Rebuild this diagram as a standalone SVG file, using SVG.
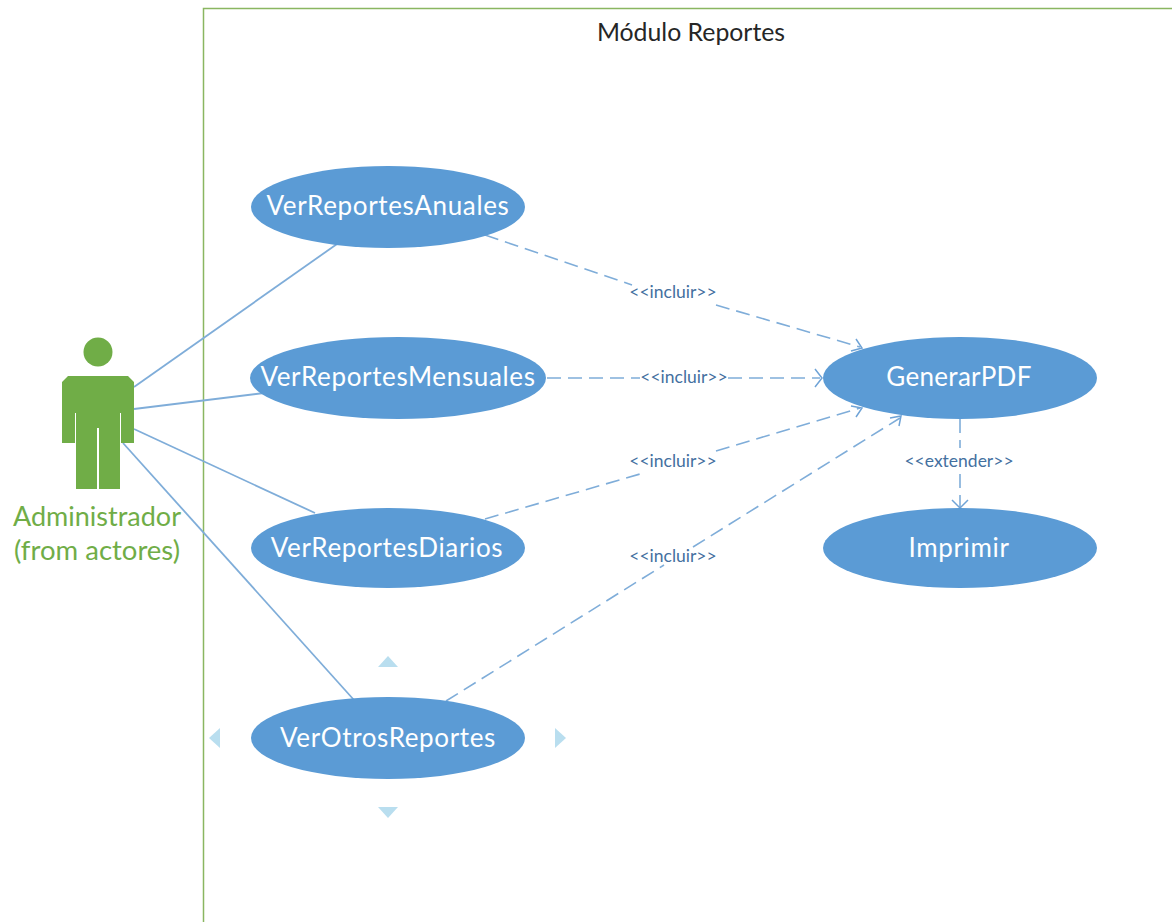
<svg xmlns="http://www.w3.org/2000/svg" width="1172" height="922" viewBox="0 0 1172 922">
<style>
text{font-family:Lato,"Open Sans","Liberation Sans",sans-serif}
.uc{fill:#5b9bd5}
.ut{fill:#fff;font-size:26px;text-anchor:middle;letter-spacing:.65px}
.a{stroke:#7fadd9;stroke-width:1.800;fill:none}
.d{stroke:#7fadd9;stroke-width:1.600;fill:none;stroke-dasharray:14 7}
.h{stroke:#6fa3d6;stroke-width:1.500;fill:none}
.l{fill:#44709f;font-size:17.500px;text-anchor:middle}
.m{fill:#b9deef}
.g{fill:#70ad47}
</style>
<rect width="1172" height="922" fill="#fff"/>
<g id="boundary">
<path d="M203.500 922V8.500H1172" fill="none" stroke="#8ab661" stroke-width="1.500"/>
<text x="691" y="41" font-size="24.800" text-anchor="middle" fill="#262626">Módulo Reportes</text>
</g>
<g id="connectors">
<path class="a" d="M134 387L337 244"/>
<path class="a" d="M134 409L264 393"/>
<path class="a" d="M134 429L315 513"/>
<path class="a" d="M123 443L354 700"/>
<path class="d" d="M485 235L632 285M716 305L860 347"/>
<path class="h" d="M856 339L862 348L851 351"/>
<path class="d" d="M547 378L640 378M728 378L820 378"/>
<path class="h" d="M815 369L822 378L815 387"/>
<path class="d" d="M485 519L640 474M716 451L860 408"/>
<path class="h" d="M851 406L862 408L856 417"/>
<path class="d" d="M446 701L664 565M693 547L900 418"/>
<path class="h" d="M890 418L901 416L899 426"/>
<path class="d" d="M960 419L960 448M960 474L960 507"/>
<path class="h" d="M952 500L960 508L968 500"/>
<text class="l" x="673" y="298">&lt;&lt;incluir&gt;&gt;</text>
<text class="l" x="684" y="383">&lt;&lt;incluir&gt;&gt;</text>
<text class="l" x="673" y="467">&lt;&lt;incluir&gt;&gt;</text>
<text class="l" x="673" y="562">&lt;&lt;incluir&gt;&gt;</text>
<text class="l" x="959" y="467">&lt;&lt;extender&gt;&gt;</text>
</g>
<g id="actor">
<circle class="g" cx="98" cy="352" r="14.500"/>
<path class="g" d="M68 376H128L134 382V443H121V413H120V489H99V428H97V489H76V413H75V443H62V382Z"/>
<text x="97" y="526" font-size="27" text-anchor="middle" fill="#70ad47">Administrador</text>
<text x="97" y="560" font-size="27.500" text-anchor="middle" fill="#70ad47">(from actores)</text>
</g>
<g id="uc-anuales"><ellipse class="uc" cx="388" cy="207" rx="137" ry="41"/><text class="ut" x="388" y="215">VerReportesAnuales</text></g>
<g id="uc-mensuales"><ellipse class="uc" cx="398" cy="378" rx="148" ry="41"/><text class="ut" x="398" y="386">VerReportesMensuales</text></g>
<g id="uc-diarios"><ellipse class="uc" cx="388" cy="548" rx="137" ry="40"/><text class="ut" x="387" y="557">VerReportesDiarios</text></g>
<g id="uc-otros"><ellipse class="uc" cx="388" cy="738" rx="137" ry="41"/><text class="ut" x="388" y="747">VerOtrosReportes</text></g>
<g id="uc-pdf"><ellipse class="uc" cx="960" cy="378" rx="137" ry="41"/><text class="ut" x="959" y="386" style="letter-spacing:.3px">GenerarPDF</text></g>
<g id="uc-imprimir"><ellipse class="uc" cx="960" cy="548" rx="137" ry="40"/><text class="ut" x="959" y="557">Imprimir</text></g>
<g id="handles">
<path class="m" d="M388 656L398 667H378Z"/>
<path class="m" d="M388 818L398 807H378Z"/>
<path class="m" d="M209 738L220 728V748Z"/>
<path class="m" d="M566 738L555 728V748Z"/>
</g>
</svg>
